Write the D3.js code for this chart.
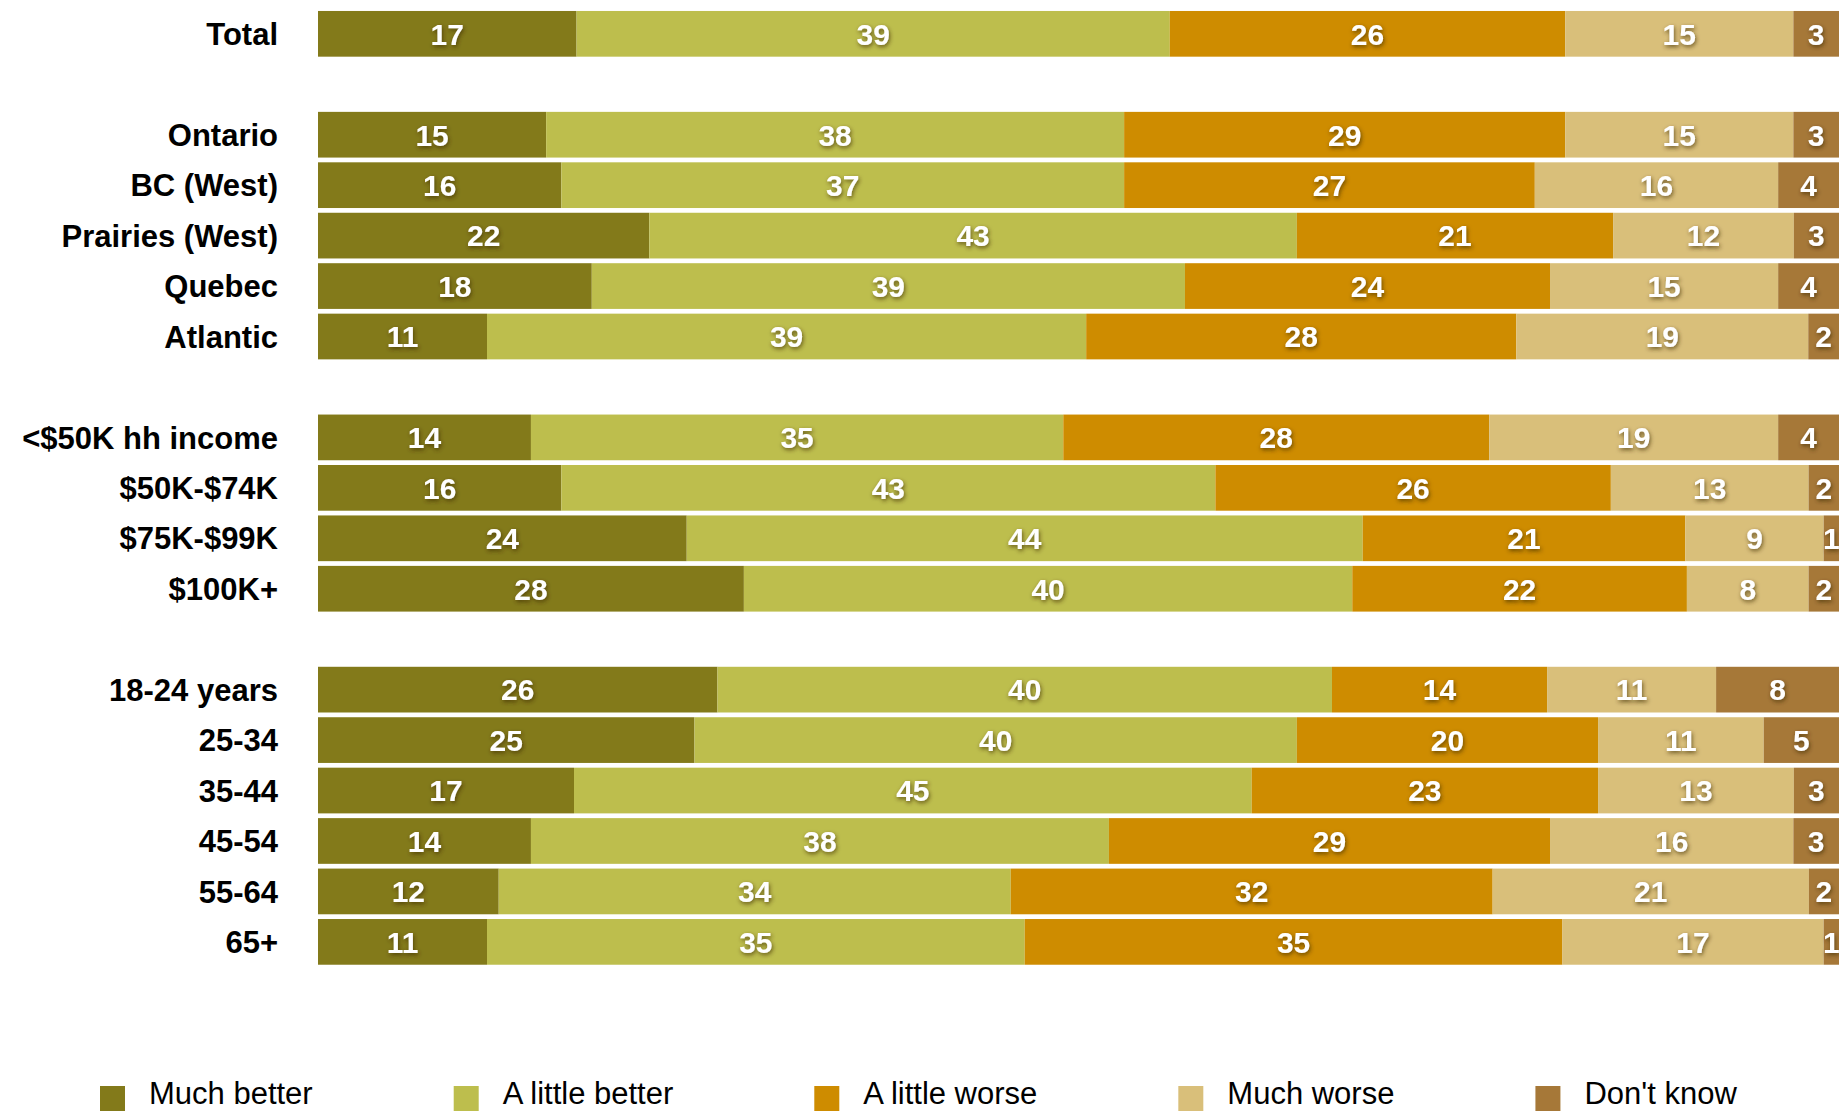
<!DOCTYPE html>
<html>
<head>
<meta charset="utf-8">
<script src="https://cdn.jsdelivr.net/npm/d3@7"></script>
<style>
  body { margin: 0; background: #fff; }
  svg { display: block; }
</style>
</head>
<body>
<svg></svg>
<script>
// rows, with blank spacer rows between groups
const categories = [
  "Total", "",
  "Ontario", "BC (West)", "Prairies (West)", "Quebec", "Atlantic", " ",
  "<$50K hh income", "$50K-$74K", "$75K-$99K", "$100K+", "  ",
  "18-24 years", "25-34", "35-44", "45-54", "55-64", "65+"
];

const seriesNames = ["Much better", "A little better", "A little worse", "Much worse", "Don't know"];

const muchBetter   = [17, null, 15, 16, 22, 18, 11, null, 14, 16, 24, 28, null, 26, 25, 17, 14, 12, 11];
const littleBetter = [39, null, 38, 37, 43, 39, 39, null, 35, 43, 44, 40, null, 40, 40, 45, 38, 34, 35];
const littleWorse  = [26, null, 29, 27, 21, 24, 28, null, 28, 26, 21, 22, null, 14, 20, 23, 29, 32, 35];
const muchWorse    = [15, null, 15, 16, 12, 15, 19, null, 19, 13, 9, 8, null, 11, 11, 13, 16, 21, 17];
const dontKnow     = [3, null, 3, 4, 3, 4, 2, null, 4, 2, 1, 2, null, 8, 5, 3, 3, 2, 1];

const colors = ["#837a1a", "#bdbe4d", "#ce8c00", "#d9bf7a", "#a67838"];

const width = 1839, height = 1111;

const svg = d3.select("svg").attr("width", width).attr("height", height);

const defs = svg.append("defs");
const shadow = defs.append("filter").attr("id", "shadow")
  .attr("x", "-30%").attr("y", "-30%").attr("width", "160%").attr("height", "160%");
shadow.append("feDropShadow")
  .attr("dx", 1).attr("dy", 2).attr("stdDeviation", 2)
  .attr("flood-color", "#3a2a00").attr("flood-opacity", 0.7);

// table built from the arrays
const table = categories.map((c, i) => ({
  category: c,
  "Much better": muchBetter[i],
  "A little better": littleBetter[i],
  "A little worse": littleWorse[i],
  "Much worse": muchWorse[i],
  "Don't know": dontKnow[i]
})).filter(d => d["Much better"] !== null);

// each bar fills 100% (rounded values don't always add to 100)
const x = d3.scaleLinear().domain([0, 1]).range([318, 1839]);

const y = d3.scaleBand()
  .domain(categories)
  .range([8.6, 967.1])
  .paddingInner(0.094)
  .paddingOuter(0.047);

const color = d3.scaleOrdinal().domain(seriesNames).range(colors);

const stack = d3.stack().keys(seriesNames).offset(d3.stackOffsetExpand);
const layers = stack(table);

const layerG = svg.append("g")
  .selectAll("g")
  .data(layers)
  .enter()
  .append("g")
  .attr("fill", d => color(d.key));

layerG.selectAll("rect")
  .data(d => d)
  .enter()
  .append("rect")
  .attr("x", d => x(d[0]))
  .attr("y", d => y(d.data.category))
  .attr("width", d => x(d[1]) - x(d[0]))
  .attr("height", y.bandwidth());

layerG.selectAll("text")
  .data(d => d.map(p => ({ p: p, key: d.key })))
  .enter()
  .append("text")
  .attr("x", d => (x(d.p[0]) + x(d.p[1])) / 2)
  .attr("y", d => y(d.p.data.category) + y.bandwidth() / 2)
  .attr("dy", "0.36em")
  .attr("text-anchor", "middle")
  .attr("fill", "#fff")
  .attr("filter", "url(#shadow)")
  .style("font-family", "'Liberation Sans', Arial, sans-serif")
  .style("font-weight", "bold")
  .style("font-size", "30px")
  .text(d => d.p.data[d.key]);

// category labels
svg.append("g")
  .selectAll("text")
  .data(table)
  .enter()
  .append("text")
  .attr("x", 278)
  .attr("y", d => y(d.category) + y.bandwidth() / 2)
  .attr("dy", "0.36em")
  .attr("text-anchor", "end")
  .attr("fill", "#000")
  .style("font-family", "'Liberation Sans', Arial, sans-serif")
  .style("font-weight", "bold")
  .style("font-size", "31px")
  .text(d => d.category);

// legend
const legend = svg.append("g").attr("transform", "translate(100, 1086)");
let lx = 0;
seriesNames.forEach(name => {
  const item = legend.append("g").attr("transform", `translate(${lx},0)`);
  item.append("rect")
    .attr("width", 25)
    .attr("height", 25)
    .attr("fill", color(name));
  const t = item.append("text")
    .attr("x", 49)
    .attr("y", 18)
    .attr("fill", "#000")
    .style("font-family", "'Liberation Sans', Arial, sans-serif")
    .style("font-size", "31px")
    .text(name);
  lx += 49 + t.node().getComputedTextLength() + 141;
});
</script>
</body>
</html>
